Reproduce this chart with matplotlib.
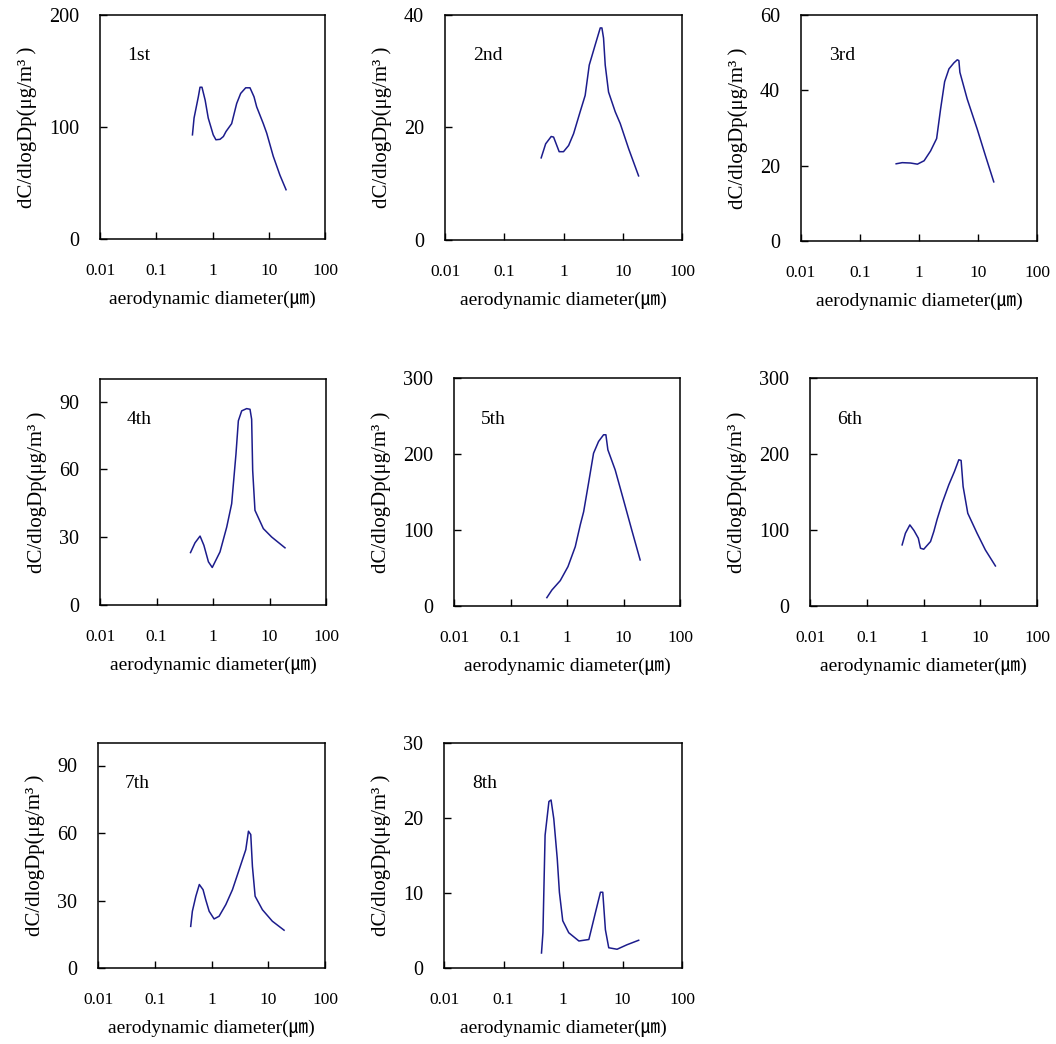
import numpy as np
import matplotlib.pyplot as plt

plt.rcParams['font.family'] = ['Liberation Serif', 'Noto Sans CJK KR', 'DejaVu Sans']

# particle size distributions, 8 sampling runs
labels = ['1st', '2nd', '3rd', '4th', '5th', '6th', '7th', '8th']

d1 = [0.44, 0.47, 0.56, 0.60, 0.65, 0.74, 0.84, 1.03, 1.15, 1.36, 1.56, 1.74, 2.19, 2.69, 3.17, 3.89, 4.64, 5.47, 6.1, 8.0, 9.2, 12.0, 15.8, 20.3]
c1 = [93, 108, 127, 135.5, 135.5, 124, 108, 93, 88.6, 89, 91.5, 96, 103, 121, 130, 135, 135, 127, 118, 103, 94.5, 74, 57, 44]

d2 = [0.42, 0.50, 0.62, 0.68, 0.845, 1.0, 1.22, 1.48, 1.91, 2.32, 2.72, 3.43, 4.17, 4.45, 4.74, 5.06, 5.76, 7.46, 9.07, 12.6, 18.5]
c2 = [14.6, 17.1, 18.4, 18.3, 15.7, 15.7, 16.8, 18.9, 22.8, 25.7, 31.1, 34.7, 37.7, 37.7, 35.9, 31.1, 26.3, 22.8, 20.7, 16.2, 11.4]

d3 = [0.41, 0.52, 0.72, 0.94, 1.22, 1.57, 1.99, 2.32, 2.72, 3.22, 3.91, 4.45, 4.74, 4.93, 6.56, 9.7, 13.4, 18.5]
c3 = [20.5, 20.8, 20.7, 20.4, 21.3, 23.9, 27.2, 35, 42.3, 45.7, 47.3, 48.1, 47.9, 44.8, 37.7, 29.7, 22.6, 15.7]

d4 = [0.40, 0.48, 0.59, 0.69, 0.83, 0.97, 1.33, 1.75, 2.14, 2.55, 2.81, 3.22, 3.94, 4.52, 4.83, 5.04, 5.53, 7.78, 10.9, 18.8]
c4 = [23.2, 27.5, 30.5, 26.4, 19.1, 16.6, 23.5, 34.5, 44.8, 66.8, 81.5, 85.9, 86.9, 86.6, 82.2, 59.5, 41.9, 33.8, 30.1, 25.3]

d5 = [0.44, 0.54, 0.76, 1.04, 1.40, 1.72, 1.97, 2.41, 2.95, 3.62, 4.44, 4.88, 5.29, 7.13, 10.0, 14.0, 19.7]
c5 = [11, 21, 33.4, 51.8, 78, 107, 124, 162, 201, 216.5, 225.3, 225.3, 205.5, 179, 139.6, 100, 60.6]

d6 = [0.42, 0.48, 0.575, 0.68, 0.81, 0.885, 1.01, 1.33, 1.52, 1.74, 2.13, 2.79, 3.51, 4.19, 4.6, 4.99, 6.03, 8.79, 12.3, 18.5]
c6 = [80.4, 95.7, 106.7, 99.3, 89.2, 76, 74.7, 84.8, 98, 114.2, 135.3, 159.4, 177, 192.4, 191.5, 157.2, 122, 95.7, 73.8, 52.7]

d7 = [0.43, 0.46, 0.53, 0.61, 0.71, 0.79, 0.91, 1.11, 1.36, 1.79, 2.34, 3.07, 4.02, 4.48, 4.92, 5.26, 5.87, 7.89, 11.8, 19.0]
c7 = [18.5, 25.2, 31.9, 37.1, 34.8, 30.4, 25.2, 21.8, 23, 28.2, 34.8, 43.7, 52.6, 60.8, 59.3, 45.2, 31.9, 25.9, 20.8, 16.8]

d8 = [0.435, 0.46, 0.50, 0.58, 0.63, 0.70, 0.80, 0.87, 0.99, 1.25, 1.85, 2.72, 3.51, 4.26, 4.66, 5.16, 5.87, 8.1, 11.9, 18.7]
c8 = [2.0, 4.7, 17.7, 22.2, 22.4, 19.9, 14.6, 10.1, 6.3, 4.7, 3.6, 3.8, 7.4, 10.1, 10.1, 5.1, 2.7, 2.5, 3.1, 3.7]

diam = [d1, d2, d3, d4, d5, d6, d7, d8]
conc = [c1, c2, c3, c4, c5, c6, c7, c8]
ymax = [200, 40, 60, 100, 300, 300, 100, 30]
yticks = [[0, 100, 200], [0, 20, 40], [0, 20, 40, 60], [0, 30, 60, 90],
          [0, 100, 200, 300], [0, 100, 200, 300], [0, 30, 60, 90], [0, 10, 20, 30]]
xticks = [0.01, 0.1, 1, 10, 100]
xticklabels = ['0.01', '0.1', '1', '10', '100']

# axes boxes in pixels: left, right, top, bottom
W, H = 1056, 1044
boxes = [(100, 325, 15, 239), (445, 682, 15, 240), (801, 1037, 15, 241),
         (100, 326, 379, 605), (454, 680, 378, 606), (810, 1037, 378, 606),
         (98, 325, 743, 968), (444, 682, 743, 968)]

fig = plt.figure(figsize=(W / 100, H / 100), dpi=100)
for i in range(8):
    l, r, t, b = boxes[i]
    ax = fig.add_axes([l / W, 1 - b / H, (r - l) / W, (b - t) / H])
    ax.plot(diam[i], conc[i], color='#1c1c8c', lw=1.1)
    ax.set_xscale('log')
    ax.set_xlim(0.01, 100)
    ax.set_ylim(0, ymax[i])
    ax.set_xticks(xticks)
    ax.set_xticklabels(xticklabels, fontsize=12.5)
    ax.minorticks_off()
    ax.set_yticks(yticks[i])
    ax.tick_params(axis='y', labelsize=14.5, direction='in', length=5, width=1, pad=15)
    ax.tick_params(axis='x', direction='in', length=5, width=1, pad=17)
    for s in ax.spines.values():
        s.set_linewidth(1.1)
    ax.set_xlabel('aerodynamic diameter(㎛)', fontsize=14, labelpad=9)
    ax.set_ylabel('dC/dlogDp(μg/m³ )', fontsize=15, labelpad=9)
    ax.text(0.12, 0.82, labels[i], transform=ax.transAxes, fontsize=14, va='center')

fig.savefig('out.png', dpi=100)
